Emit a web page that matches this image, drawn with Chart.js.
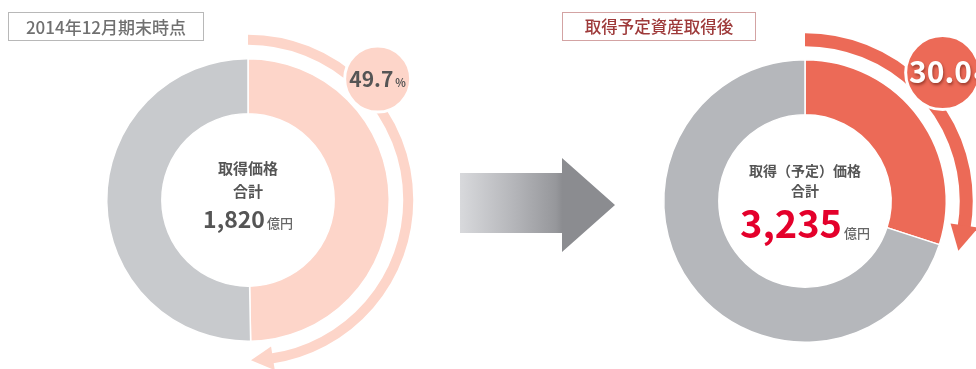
<!DOCTYPE html>
<html lang="ja">
<head>
<meta charset="utf-8">
<script src="https://cdn.jsdelivr.net/npm/chart.js@4.4.1/dist/chart.umd.min.js"></script>
<style>
  body { margin: 0; background: #fff; font-family: "Noto Sans CJK JP", "Noto Sans", sans-serif; }
  #wrap { position: relative; width: 976px; height: 369px; overflow: hidden; }
  canvas { position: absolute; top: 0; }
  #c0 { left: 0; }
  #c1 { left: 490px; }
  .tag { position: absolute; top: 12px; height: 27px; line-height: 27px; text-align: center; box-sizing: content-box; font-weight: 500; }
  #tag0 { left: 8px; width: 194px; border: 1.5px solid #b8b8b8; color: #707070; font-size: 17px; }
  #tag1 { left: 562px; width: 192px; border: 1.5px solid #d3a3a3; color: #9e3a3a; font-size: 16.5px; }
  #arrow {
    position: absolute; left: 460px; top: 158px; width: 155px; height: 94px;
    background: linear-gradient(90deg, #d8d9dc 0%, #b4b5b9 35%, #96979b 62%, #8b8c90 66%, #8b8c90 100%);
    clip-path: polygon(0 15px, 102px 15px, 102px 0, 155px 47px, 102px 94px, 102px 75px, 0 75px);
  }
</style>
</head>
<body>
<div id="wrap">
  <canvas id="c0" width="490" height="369"></canvas>
  <canvas id="c1" width="486" height="369"></canvas>
  <div id="arrow"></div>
  <div class="tag" id="tag0"></div>
  <div class="tag" id="tag1"></div>
</div>
<script>
// data
const periods = ['2014年12月期末時点', '取得予定資産取得後'];
const segmentLabels = ['対象資産', 'その他'];
const shareValues = [49.7, 30.0];
const otherValues = [50.3, 70.0];
const totalValues = [1820, 3235];
const centerLabels = [['取得価格', '合計'], ['取得（予定）価格', '合計']];

const looks = [
    { share: '#fdd5c9', other: '#c8cacd', arcWidth: 10, arcGap: 19, headLen: 22, headHalf: 12,
      badgeR: 33, badgeOff: 17, badgeText: '#555', pctSize: 21, pctDx: 0,
      totalColor: '#555', totalSize: 23, labelSize: 15, labelDy: [-32, -9], totalDy: 28,
      padding: { left: 106, right: 100, top: 58, bottom: 27 } },
    { share: '#ec6a57', other: '#b5b7bb', arcWidth: 13, arcGap: 20, headLen: 26, headHalf: 14,
      badgeR: 37, badgeOff: 27, badgeText: '#fff', pctSize: 30, pctDx: 6, shadow: true,
      totalColor: '#e4002b', totalSize: 38, labelSize: 14, labelDy: [-30, -10], totalDy: 37,
      padding: { left: 173, right: 29, top: 59, bottom: 26 } }
];

const FONT = '"Noto Sans CJK JP", "Noto Sans", sans-serif';

const decor = {
    id: 'decor',
    afterDatasetsDraw(chart, args, o) {
        const ctx = chart.ctx;
        const arc = chart.getDatasetMeta(0).data[0];
        const { x, y, outerRadius, startAngle, endAngle } = arc.getProps(['x', 'y', 'outerRadius', 'startAngle', 'endAngle']);
        const lk = o.look;
        const r = outerRadius + lk.arcGap;
        const headAng = lk.headLen / r;

        ctx.save();
        // outer arc
        ctx.strokeStyle = lk.share;
        ctx.lineWidth = lk.arcWidth;
        ctx.beginPath();
        ctx.arc(x, y, r, startAngle, endAngle - headAng + 0.01);
        ctx.stroke();

        // arrow head
        const pt = (rad, a) => [x + rad * Math.cos(a), y + rad * Math.sin(a)];
        const b = endAngle - headAng;
        ctx.fillStyle = lk.share;
        ctx.beginPath();
        ctx.moveTo(...pt(r + lk.headHalf, b));
        ctx.lineTo(...pt(r, endAngle));
        ctx.lineTo(...pt(r - lk.headHalf, b));
        ctx.closePath();
        ctx.fill();

        // badge
        const ba = startAngle + (47 / 180) * Math.PI;
        const [bx, by] = pt(r + lk.badgeOff, ba);
        ctx.beginPath();
        ctx.arc(bx, by, lk.badgeR, 0, Math.PI * 2);
        ctx.fillStyle = lk.share;
        ctx.fill();
        ctx.lineWidth = 3;
        ctx.strokeStyle = '#fff';
        ctx.stroke();

        const pctText = o.pct.toFixed(1);
        ctx.font = `bold ${lk.pctSize}px ${FONT}`;
        const w1 = ctx.measureText(pctText).width;
        ctx.font = `bold ${Math.round(lk.pctSize * 0.5)}px ${FONT}`;
        const w2 = ctx.measureText('%').width;
        let sx = bx - (w1 + w2 + 2) / 2 + lk.pctDx;
        ctx.textBaseline = 'alphabetic';
        ctx.textAlign = 'left';
        if (lk.shadow) {
            ctx.shadowColor = 'rgba(90,20,10,0.55)';
            ctx.shadowOffsetX = 1;
            ctx.shadowOffsetY = 2;
            ctx.shadowBlur = 3;
        }
        ctx.fillStyle = lk.badgeText;
        ctx.font = `bold ${lk.pctSize}px ${FONT}`;
        ctx.fillText(pctText, sx, by + lk.pctSize * 0.36);
        ctx.font = `bold ${Math.round(lk.pctSize * 0.5)}px ${FONT}`;
        ctx.fillText('%', sx + w1 + 2, by + lk.pctSize * 0.36);
        ctx.shadowColor = 'transparent';

        // centre text
        ctx.textAlign = 'center';
        ctx.fillStyle = '#555';
        ctx.font = `600 ${lk.labelSize}px ${FONT}`;
        ctx.textBaseline = 'middle';
        o.labels.forEach((t, i) => ctx.fillText(t, x, y + lk.labelDy[i]));

        const num = o.total.toLocaleString('en-US');
        ctx.textBaseline = 'alphabetic';
        ctx.textAlign = 'left';
        ctx.font = `bold ${lk.totalSize}px ${FONT}`;
        const nw = ctx.measureText(num).width;
        ctx.font = `500 13px ${FONT}`;
        const uw = ctx.measureText('億円').width;
        const nx = x - (nw + uw + 2) / 2;
        ctx.fillStyle = lk.totalColor;
        ctx.font = `bold ${lk.totalSize}px ${FONT}`;
        ctx.fillText(num, nx, y + lk.totalDy);
        ctx.fillStyle = '#666';
        ctx.font = `500 13px ${FONT}`;
        ctx.fillText('億円', nx + nw + 2, y + lk.totalDy);
        ctx.restore();
    }
};

periods.forEach((p, i) => {
    document.getElementById('tag' + i).textContent = p;
    const lk = looks[i];
    new Chart(document.getElementById('c' + i), {
        type: 'doughnut',
        data: {
            labels: segmentLabels,
            datasets: [{
                data: [shareValues[i], otherValues[i]],
                backgroundColor: [lk.share, lk.other],
                borderColor: '#fff',
                borderWidth: 1.5
            }]
        },
        options: {
            responsive: false,
            animation: false,
            cutout: '61%',
            layout: { padding: lk.padding },
            plugins: {
                legend: { display: false },
                tooltip: { enabled: false },
                decor: { look: lk, pct: shareValues[i], total: totalValues[i], labels: centerLabels[i] }
            }
        },
        plugins: [decor]
    });
});
</script>
</body>
</html>
